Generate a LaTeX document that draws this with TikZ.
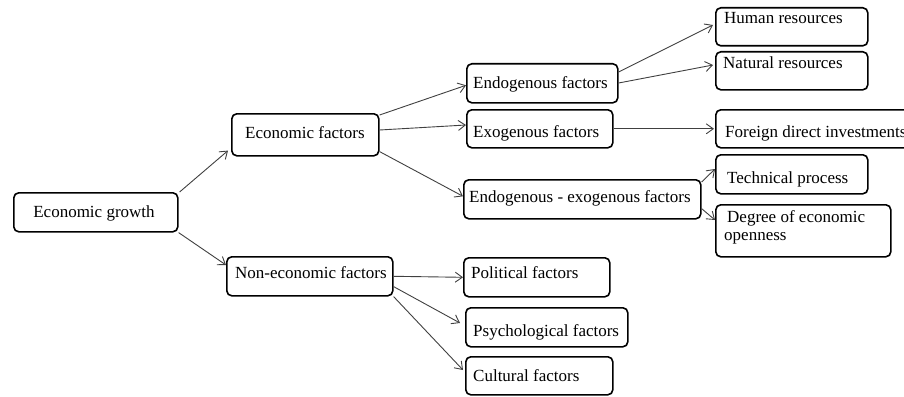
\documentclass[tikz,border=0pt]{standalone}
\usepackage{fontspec}
\setmainfont{Liberation Serif}
\usetikzlibrary{arrows.meta}
\begin{document}
\begin{tikzpicture}[x=1pt,y=-1pt,
  box/.style={draw=black, line width=1.6pt, rounded corners=5pt, inner sep=0pt, anchor=north west},
  txt/.style={inner sep=0pt, anchor=base west, font=\fontsize{17}{18}\selectfont},
  arr/.style={draw=black!75, line width=0.9pt, -{Straight Barb[length=7pt,width=10pt]}}]
\useasboundingbox (0,0) rectangle (904,396);
\clip (0,0) rectangle (904,396);
% boxes
\node[box, minimum width=164pt, minimum height=39pt] (eg)   at (13,192)  {};
\node[box, minimum width=147pt, minimum height=42pt] (ef)   at (231,113) {};
\node[box, minimum width=166pt, minimum height=39pt] (nef)  at (226,256) {};
\node[box, minimum width=151pt, minimum height=39pt] (endo) at (466,63)  {};
\node[box, minimum width=146pt, minimum height=38pt] (exo)  at (466,109) {};
\node[box, minimum width=237pt, minimum height=39pt] (eef)  at (463,179) {};
\node[box, minimum width=152pt, minimum height=38pt] (hr)   at (715,7)   {};
\node[box, minimum width=152pt, minimum height=38pt] (nr)   at (715,51)  {};
\node[box, minimum width=225pt, minimum height=38pt] (fdi)  at (715,109) {};
\node[box, minimum width=152pt, minimum height=39pt] (tp)   at (715,154) {};
\node[box, minimum width=175pt, minimum height=52pt] (deg)  at (715,204) {};
\node[box, minimum width=146pt, minimum height=39pt] (pol)  at (463,257) {};
\node[box, minimum width=162pt, minimum height=39pt] (psy)  at (465,307) {};
\node[box, minimum width=147pt, minimum height=38pt] (cul)  at (465,356) {};
% texts
\node[txt, anchor=base] (t-eg) at (94,217) {Economic growth};
\node[txt] (t-ef)   at (245,138) {Economic factors};
\node[txt] (t-nef)  at (235,278) {Non-economic factors};
\node[txt] (t-endo) at (473,88)  {Endogenous factors};
\node[txt] (t-exo)  at (473,137) {Exogenous factors};
\node[txt] (t-eef)  at (469,202) {Endogenous - exogenous factors};
\node[txt] (t-hr)   at (724,24)  {Human resources};
\node[txt] (t-nr)   at (723,68)  {Natural resources};
\node[txt] (t-fdi)  at (725,137) {Foreign direct investments};
\node[txt] (t-tp)   at (727,183) {Technical process};
\node[txt] (t-deg1) at (727,222) {Degree of economic};
\node[txt] (t-deg2) at (724,240) {openness};
\node[txt] (t-pol)  at (471,278) {Political factors};
\node[txt] (t-psy)  at (473,336) {Psychological factors};
\node[txt] (t-cul)  at (473,381) {Cultural factors};
% arrows
\draw[arr] ([shift={(1,0)}]eg.north east) -- ([shift={(-3,-6)}]ef.south west);
\draw[arr] (eg.south east) -- ([shift={(0,9)}]nef.north west);
\draw[arr] ([shift={(0,2)}]ef.north east) -- ([shift={(0,2)}]endo.west);
\draw[arr] ([shift={(0,17)}]ef.north east) -- ([shift={(0,16)}]exo.north west);
\draw[arr] ([shift={(0,-5)}]ef.south east) -- ([shift={(0,-3)}]eef.west);
\draw[arr] ([shift={(0,9)}]endo.north east) -- ([shift={(-2,18)}]hr.north west);
\draw[arr] ([shift={(0,20)}]endo.north east) -- ([shift={(-2,14)}]nr.north west);
\draw[arr] (exo.east) -- ([shift={(-1,0)}]fdi.west);
\draw[arr] ([shift={(0,3)}]eef.north east) -- ([shift={(0,15)}]tp.north west);
\draw[arr] ([shift={(0,-11)}]eef.south east) -- ([shift={(0,16)}]deg.north west);
\draw[arr] (nef.east) -- (pol.west);
\draw[arr] ([shift={(0,-10)}]nef.south east) -- ([shift={(-5,16)}]psy.north west);
\draw[arr] (nef.south east) -- ([shift={(-2,14)}]cul.north west);
\end{tikzpicture}
\end{document}
